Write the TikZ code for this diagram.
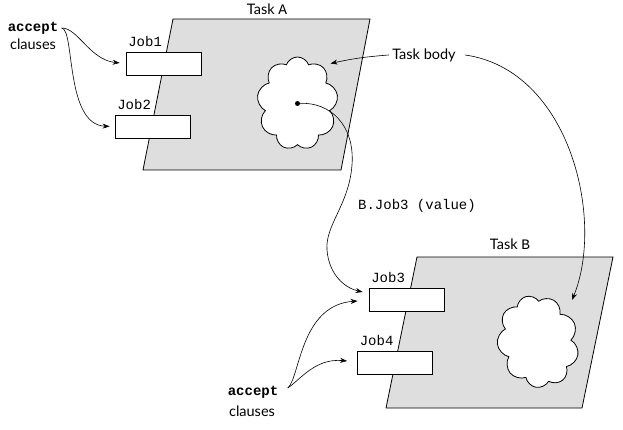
\documentclass[tikz,border=0pt]{standalone}
\usepackage{fontspec}
\setmainfont{Lato}
\setmonofont{Liberation Mono}
\usetikzlibrary{arrows.meta,shapes.symbols}
\definecolor{taskgray}{gray}{0.87}
\tikzset{
  task/.style={draw, fill=taskgray, line width=0.8pt},
  jobbox/.style={draw, fill=white, line width=0.8pt, minimum width=75pt, minimum height=23pt, inner sep=0pt},
  taskbody/.style={cloud, cloud puffs=9, cloud puff arc=140, draw, fill=white, line width=0.8pt, minimum width=81pt, minimum height=93pt, inner sep=0pt},
  txt/.style={font=\fontsize{14.5}{16}\selectfont},
  code/.style={font=\fontsize{14}{16}\selectfont\ttfamily},
  joblbl/.style={code, anchor=south west, inner sep=1pt},
  conn/.style={-{Stealth[length=7pt,width=5pt]}, line width=0.6pt},
}

\begin{document}
\begin{tikzpicture}[x=1pt,y=-1pt]
\useasboundingbox (0,0) rectangle (623,430);

\begin{scope}[shift={(173,19)}]
  \draw[task] (0,0)--(197,0)--(168,151)--(-30,151)--cycle;
  \node[txt] (taskA) at (94,-10) {Task \texttt{A}};
  \node[jobbox] (job1) at (-9.5,44.5) {};
  \node[joblbl] (job1lbl) at ([shift={(1.5,-4)}]job1.north west) {Job1};
  \node[jobbox] (job2) at (-20.5,107.5) {};
  \node[joblbl] (job2lbl) at ([shift={(1.5,-4)}]job2.north west) {Job2};
  \node[taskbody] (bodyA) at (124.5,84.5) {};
  \node[circle, fill, inner sep=0pt, minimum size=5pt] (dot) at (bodyA.center) {};
\end{scope}

\begin{scope}[shift={(417,257)}]
  \draw[task] (0,0)--(196,0)--(165,151)--(-31,151)--cycle;
  \node[txt] (taskB) at (93,-13) {Task \texttt{B}};
  \node[jobbox] (job3) at (-10.5,42.5) {};
  \node[joblbl] (job3lbl) at ([shift={(1.5,-4)}]job3.north west) {Job3};
  \node[jobbox] (job4) at (-22,106) {};
  \node[joblbl] (job4lbl) at ([shift={(1.5,-4)}]job4.north west) {Job4};
  \node[taskbody, rotate=15] (bodyB) at (121,84.5) {};
\end{scope}

\node[code, font=\fontsize{14}{16}\selectfont\ttfamily\bfseries] (accA) at (33,28) {accept};
\node[txt] (clsA) at (33,44) {clauses};
\node[code, font=\fontsize{14}{16}\selectfont\ttfamily\bfseries] (accB) at (253,392) {accept};
\node[txt] (clsB) at (252,411) {clauses};
\node[txt] (tbody) at (424,55) {Task body};
\node[code] (call) at (417,206) {B.Job3 (value)};

\draw[conn, shorten >=6pt] (accA.east) .. controls (78,28) and (90,60) .. (job1.west);
\draw[conn, shorten >=5pt] (accA.east) .. controls (75,30) and (65,125) .. (job2.west);
\coordinate (accBout) at ([shift={(6,-4)}]accB.east);
\draw[conn] (accBout) .. controls (300,378) and (300,305) .. ([shift={(-11,1.5)}]job3.west);
\draw[conn] (accBout) .. controls (300,380) and (315,358) .. ([shift={(-10,-2)}]job4.west);
\draw[conn] (dot) .. controls (330,102) and (355,125) .. (352,165)
  .. controls (349,205) and (325,225) .. (327,250)
  .. controls (329,275) and (345,288) .. ([shift={(-6,-7.5)}]job3.west);
\draw[conn] (tbody.west) to[bend right=4] ([shift={(33,-40)}]bodyA.center);
\draw[conn] ([xshift=6pt]tbody.east) .. controls (570,70) and (605,220) .. ([shift={(34,-41.5)}]bodyB.center);
\end{tikzpicture}
\end{document}
